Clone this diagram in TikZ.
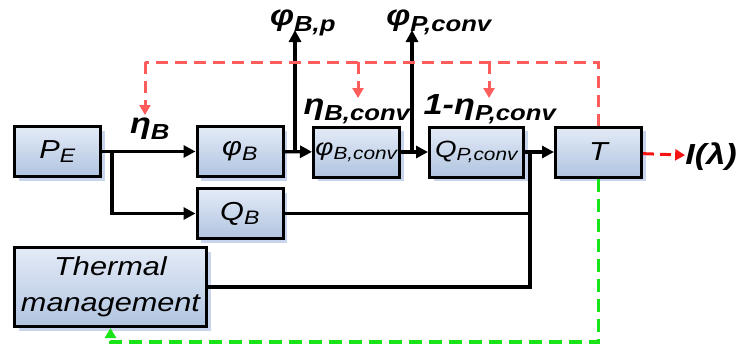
\documentclass[tikz,border=0pt]{standalone}
\usepackage{fontspec}
\setmainfont{Liberation Sans}[FakeStretch=1.18]
\usetikzlibrary{arrows.meta,shadows}

\renewcommand\defaultscriptratio{.75}

\definecolor{boxtop}{RGB}{228,235,247}
\definecolor{boxbottom}{RGB}{176,196,224}
\definecolor{boxshadow}{RGB}{200,212,236}
\definecolor{feedred}{RGB}{255,92,92}
\definecolor{outred}{RGB}{245,20,20}
\definecolor{feedgreen}{RGB}{24,228,24}

\begin{document}
\begin{tikzpicture}[
    x=1pt,y=-1pt,
    block/.style={
      draw,line width=3pt,
      minimum width=86pt,minimum height=50pt,inner sep=1pt,
      top color=boxtop,bottom color=boxbottom,
      drop shadow={shadow xshift=4pt,shadow yshift=-4pt,fill=boxshadow,opacity=1},
      font=\fontsize{26}{28}\selectfont\itshape
    },
    convblock/.style={
      block,
      font=\fontsize{23.5}{26}\selectfont\itshape
    },
    quantity/.style={
      inner sep=0pt,anchor=base,
      font=\fontsize{29}{31}\selectfont\bfseries\itshape
    },
    wire/.style={line width=3.2pt},
    flow/.style={wire,-{Triangle[length=12pt,width=12pt]}},
    redfeed/.style={
      feedred,line width=3pt,dash pattern=on 12pt off 7pt
    },
    redtip/.style={-{Triangle[length=10pt,width=11pt]}},
    greenfeed/.style={
      feedgreen,line width=3.2pt,dash pattern=on 13pt off 7pt,
      -{Triangle[length=10pt,width=11pt]}
    }]
      \useasboundingbox (0,0) rectangle (738,354);

      % blocks
      \node[block] (pe) at (57.5,151.5) {P\textsubscript{E}};
      \node[block] (phib) at (240,151.5) {φ\textsubscript{B}};
      \node[block] (qb) at (240,213.5) {Q\textsubscript{B}};
      \node[block,minimum width=192pt,minimum height=79pt,align=center,
            font=\fontsize{26}{36}\selectfont\itshape] (tm) at (110.5,287)
            {Thermal\\management};
      \node[convblock] (phibc) at (356.5,152) {φ\textsubscript{B,conv}};
      \node[convblock,minimum width=94pt] (qpc) at (476.5,152) {Q\textsubscript{P,conv}};
      \node[block] (temp) at (598.5,152) {T};

      % quantities
      \node[quantity] (etab) at (150,133) {η\textsubscript{B}};
      \node[quantity] (phibp) at (303,25) {φ\textsubscript{B,p}};
      \node[quantity] (phipc) at (439,25) {φ\textsubscript{P,conv}};
      \node[quantity] (etabc) at (357,114) {η\textsubscript{B,conv}};
      \node[quantity] (etapc) at (490,114) {1-η\textsubscript{P,conv}};
      \node[quantity] (ilam) at (711,164) {I(λ)};

      \coordinate (split) at (112,151.5);
      \coordinate (bpout) at (295,152);
      \coordinate (bptip) at (295,30);
      \coordinate (pcout) at (412,152);
      \coordinate (pctip) at (412,30);
      \coordinate (merge) at (530,152);
      \coordinate (fbleft) at (145,62);
      \coordinate (etabtip) at (145,115);
      \coordinate (fbmid) at (358,62);
      \coordinate (etabctip) at (358,98);
      \coordinate (fbright) at (489,62);
      \coordinate (etapctip) at (489,98);
      \coordinate (gbase) at (0,342);

      % power flow
      \draw[flow] (pe) -- (phib);
      \draw[flow] (split) |- (qb);
      \draw[flow] (phib) -- (phibc);
      \draw[flow] (bpout) -- (bptip);
      \draw[flow] (phibc) -- (qpc);
      \draw[flow] (pcout) -- (pctip);
      \draw[flow] (qpc) -- (temp);
      \draw[wire] (qb) -- (qb -| merge);
      \draw[wire] (tm) -| (merge);

      % temperature feedback
      \draw[redfeed] (temp.north) |- (fbleft);
      \draw[redfeed,redtip] (fbleft) -- (etabtip);
      \draw[redfeed,redtip] (fbmid) -- (etabctip);
      \draw[redfeed,redtip] (fbright) -- (etapctip);
      \draw[outred,line width=3pt,dash pattern=on 11pt off 6pt,redtip] (temp) -- (ilam);
      \draw[greenfeed] (temp.south) -- (temp.south |- gbase) -| (tm.south);
  \end{tikzpicture}
\end{document}
